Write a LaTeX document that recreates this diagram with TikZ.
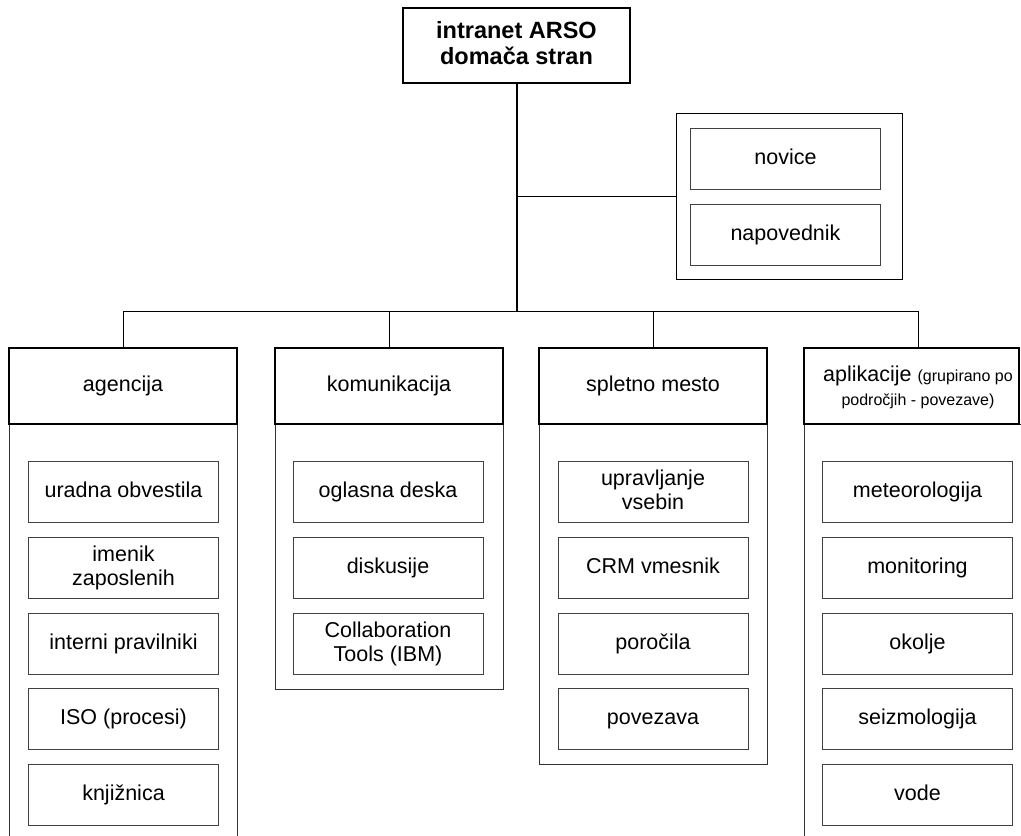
\documentclass[tikz,border=0pt]{standalone}
\usepackage{fontspec}
\setmainfont{Liberation Sans}
\newcommand\lst{\rule[-4.5pt]{0pt}{20pt}}
\begin{document}
\begin{tikzpicture}[x=1pt,y=-1pt,
  base/.style={font=\fontsize{21.5}{24}\selectfont, align=center, inner sep=0pt},
  topbox/.style={base, draw=black, line width=2pt, minimum width=227pt, minimum height=75pt, font=\fontsize{23.5}{26}\selectfont\bfseries},
  grpbox/.style={draw=black, line width=1pt, inner sep=0pt},
  headbox/.style={base, draw=black, line width=1.6pt, minimum width=228pt, minimum height=76pt},
  itembox/.style={base, draw=black!75, line width=1pt, minimum width=190pt, minimum height=61pt},
  contbox/.style={draw=black!80, line width=1pt},
  link/.style={draw=black, line width=0.9pt},
  trunk/.style={draw=black, line width=2pt}]
\useasboundingbox (0,0) rectangle (1021,836);
\clip (0,0) rectangle (1021,836);

% top node
\node[topbox] (top) at (516.5,45.5) {\rule[-5pt]{0pt}{21pt}intranet ARSO\\\rule[-5pt]{0pt}{21pt}domača stran};

% news group
\node[grpbox, minimum width=226pt, minimum height=166pt] (grp) at (789,196) {};
\node[itembox] (novice) at (785.5,158.5) {\lst novice};
\node[itembox] (napoved) at (785.5,234.5) {\lst napovednik};

% containers
\draw[contbox] (9,424) rectangle (237,850);
\draw[contbox] (275,424) rectangle (503,689);
\draw[contbox] (539,424) rectangle (767,764);
\draw[contbox] (804,424) rectangle (1040,850);

% headers
\node[headbox] (h1) at (123,386) {\lst agencija};
\node[headbox] (h2) at (389,386) {\lst komunikacija};
\node[headbox] (h3) at (653,386) {\lst spletno mesto};
\node[headbox, minimum width=215pt] (h4) at (911.5,386) {};
\node[base] (h4t) at (918,387.5) {\lst aplikacije {\fontsize{16}{23}\selectfont (grupirano po}\\{\fontsize{16}{23}\selectfont področjih - povezave)}};

% connectors
\coordinate (bus) at (516.5,311);
\coordinate (h4top) at (918,348);
\draw[trunk] (top.south) -- (bus);
\draw[link] (grp.west) -- (top.south |- grp.west);
\draw[link] (h1.north) |- (bus);
\draw[link] (h4top) |- (bus);
\draw[link] (h2.north) -- (h2.north |- bus);
\draw[link] (h3.north) -- (h3.north |- bus);

% agencija
\node[itembox] (a1) at (123.5,492) {\lst uradna obvestila};
\node[itembox] (a2) at (123.5,567.5) {\lst imenik\\\lst zaposlenih};
\node[itembox] (a3) at (123.5,643.5) {\lst interni pravilniki};
\node[itembox] (a4) at (123.5,719) {\lst ISO (procesi)};
\node[itembox] (a5) at (123.5,795) {\lst knjižnica};

% komunikacija
\node[itembox] (k1) at (388,492) {\lst oglasna deska};
\node[itembox] (k2) at (388,567.5) {\lst diskusije};
\node[itembox] (k3) at (388,643.5) {\lst Collaboration\\\lst Tools (IBM)};

% spletno mesto
\node[itembox] (s1) at (653,492) {\lst upravljanje\\\lst vsebin};
\node[itembox] (s2) at (653,567.5) {\lst CRM vmesnik};
\node[itembox] (s3) at (653,643.5) {\lst poročila};
\node[itembox] (s4) at (653,719) {\lst povezava};

% aplikacije
\node[itembox] (p1) at (917.5,492) {\lst meteorologija};
\node[itembox] (p2) at (917.5,567.5) {\lst monitoring};
\node[itembox] (p3) at (917.5,643.5) {\lst okolje};
\node[itembox] (p4) at (917.5,719) {\lst seizmologija};
\node[itembox] (p5) at (917.5,795) {\lst vode};
\end{tikzpicture}
\end{document}
